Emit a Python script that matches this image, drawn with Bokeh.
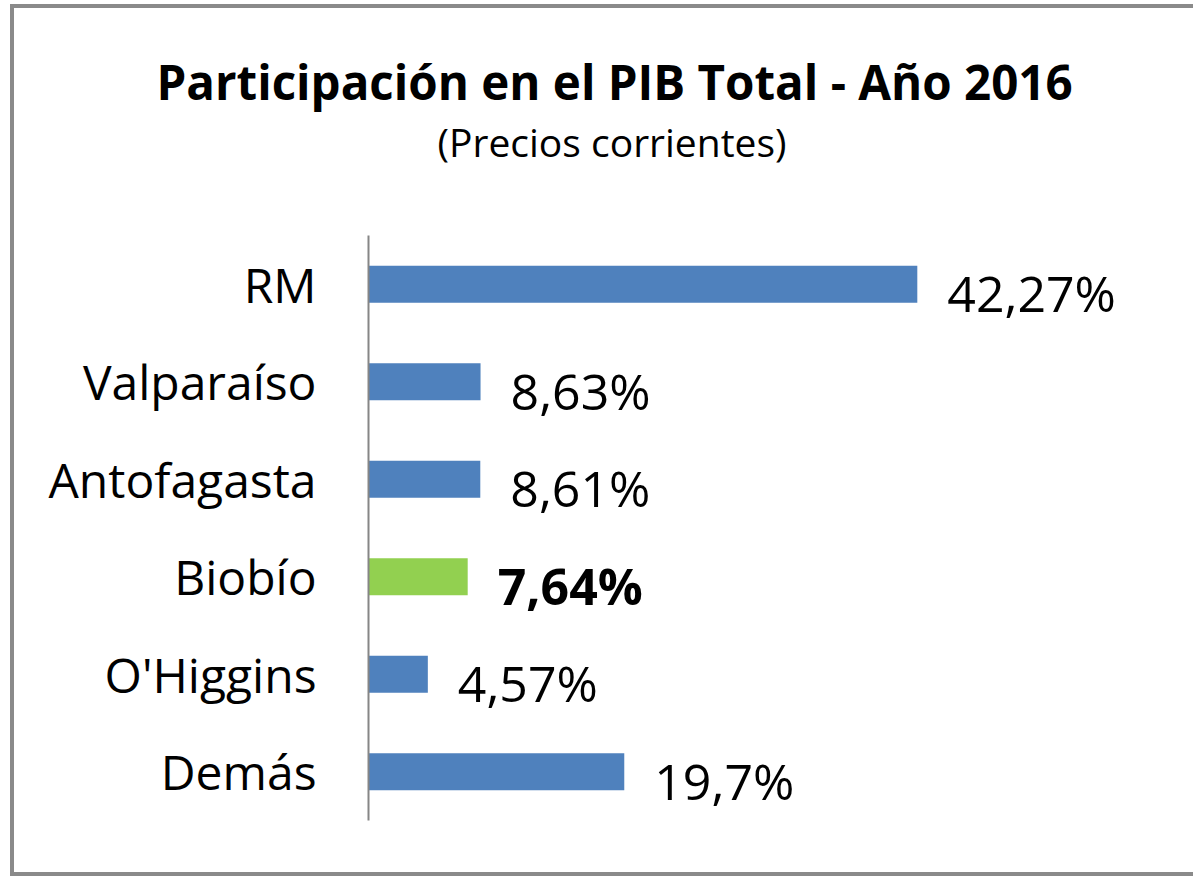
from bokeh.plotting import figure
from bokeh.models import ColumnDataSource, FactorRange, Range1d, Title
from bokeh.core.properties import value
from bokeh.embed import file_html
from bokeh.resources import INLINE

regions = ["RM", "Valparaíso", "Antofagasta", "Biobío", "O'Higgins", "Demás"]
shares = [42.27, 8.63, 8.61, 7.64, 4.57, 19.7]
share_labels = ["42,27%", "8,63%", "8,61%", "7,64%", "4,57%", "19,7%"]
bar_colors = ["#4F81BD", "#4F81BD", "#4F81BD", "#92D050", "#4F81BD", "#4F81BD"]
label_styles = ["normal", "normal", "normal", "bold", "normal", "normal"]

title_text = "Participación en el PIB Total - Año 2016"
subtitle_text = "(Precios corrientes)"

FONT = "Open Sans"

src = ColumnDataSource(dict(region=regions, share=shares, lab=share_labels,
                            color=bar_colors, style=label_styles))

p = figure(width=1183, height=872, output_backend="svg", toolbar_location=None,
           y_range=FactorRange(factors=regions[::-1], range_padding=0),
           x_range=Range1d(0, 60),
           min_border_left=354, min_border_right=50, min_border_top=227, min_border_bottom=60)

p.hbar(y="region", right="share", left=0, height=0.38, fill_color="color",
       line_color=None, source=src)

p.text(x="share", y="region", text="lab", source=src, x_offset=30, y_offset=9,
       text_font=value(FONT), text_font_size="50px", text_font_style="style",
       text_baseline="middle", text_align="left", text_color="#000000")

p.xaxis.visible = False
p.xgrid.visible = False
p.ygrid.visible = False
p.outline_line_color = None

ax = p.yaxis[0]
ax.axis_line_color = "#868686"
ax.axis_line_width = 2
ax.major_tick_line_color = None
ax.minor_tick_line_color = None
ax.major_label_standoff = 46
ax.major_label_text_font = FONT
ax.major_label_text_font_size = "48px"
ax.major_label_text_color = "#000000"

p.add_layout(Title(text=subtitle_text, text_font=FONT, text_font_size="39px",
                   text_font_style="normal", text_color="#000000",
                   align="left", offset=69, standoff=135), "above")
p.add_layout(Title(text=title_text, text_font=FONT, text_font_size="47.5px",
                   text_font_style="bold", text_color="#000000",
                   align="left", offset=-212, standoff=-136), "above")

p.styles = {"border-top": "4px solid #8a8a8a", "border-left": "4px solid #8a8a8a",
            "border-bottom": "4px solid #8a8a8a", "margin": "4px 0 0 10px"}

open("out.html", "w").write(file_html(p, INLINE))
